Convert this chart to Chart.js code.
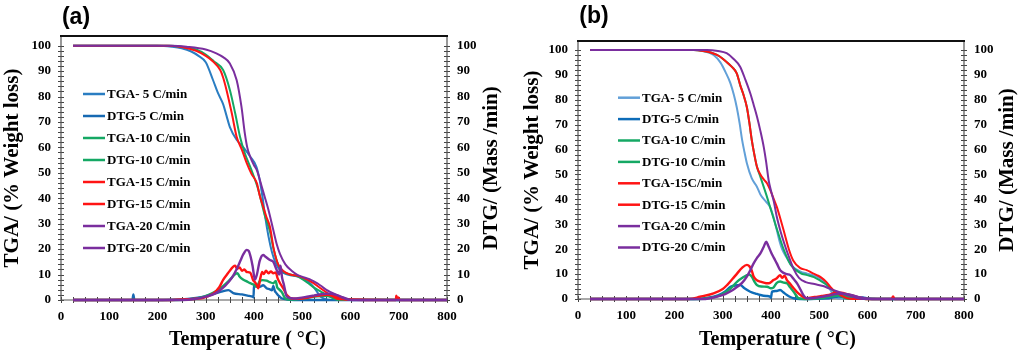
<!DOCTYPE html>
<html><head><meta charset="utf-8">
<script src="https://cdn.jsdelivr.net/npm/chart.js@4/dist/chart.umd.min.js"></script>
<style>
html,body{margin:0;padding:0;background:#fff;}
#wrap{position:relative;width:1024px;height:356px;overflow:hidden;}
.panel{position:absolute;top:0;width:512px;height:356px;}
</style></head><body>
<div id="wrap">
<div class="panel" style="left:0"><canvas id="ca" width="512" height="356"></canvas></div>
<div class="panel" style="left:512px"><canvas id="cb" width="512" height="356"></canvas></div>
</div>
<script>
// ---------- axis ticks ----------
const xTicks = [0,100,200,300,400,500,600,700,800];
const yTicks = [0,10,20,30,40,50,60,70,80,90,100];

// ---------- legend labels ----------
const labelsA = ['TGA- 5 C/min','DTG-5 C/min','TGA-10 C/min','DTG-10 C/min','TGA-15 C/min','DTG-15 C/min','TGA-20 C/min','DTG-20 C/min'];
const labelsB = ['TGA- 5 C/min','DTG-5 C/min','TGA-10 C/min','DTG-10 C/min','TGA-15C/min','DTG-15 C/min','TGA-20 C/min','DTG-20 C/min'];

// ---------- panel (a) ----------
const a_tga5_T = [25,200,230,250,270,285,300,315,325,336,343,350,364,378,392,405,412,418,423,430,437,445,455,465,480,495,505,515,525,537,547,560,800];
const a_tga5_V = [100,100,99.6,99,97.7,96,93.5,86.5,81.5,77,72.5,68,63,60,56.4,52.4,47,40,33,25,19,14.5,11.5,10.3,9.6,9,8,6.8,4.8,1.5,0.4,0,0];
const a_dtg5_T = [25,145,148,150,152,155,250,280,300,320,335,347,357,375,390,397,399,400,405,412,419,426,433,437,440,443,447,452,457,470,500,800];
const a_dtg5_V = [0,0,0,2.2,0,0,0.2,0.8,1.5,2.6,3.4,3.9,2.7,2.2,1.6,1.3,1.0,5.9,5.6,5.2,5.8,4.6,4.2,3.8,5.5,3.6,2.6,1.5,0.7,0.2,0,0];
const a_tga10_T = [25,225,250,280,300,316,336,350,361,371,381,395,409,423,433,440,450,460,475,490,502,515,525,537,550,565,575,800];
const a_tga10_V = [100,100,99.6,98.5,96.5,94,90.4,82.6,73.4,64.2,57.7,51,43.3,32.8,27,20.5,14,11.3,10,9.3,8,6.2,4.8,3.5,2,0.6,0,0];
const a_dtg10_T = [25,240,270,295,315,330,345,355,362,366,370,378,385,392,400,405,408,412,418,426,433,440,445,448,452,458,464,472,485,510,530,545,560,580,600,800];
const a_dtg10_V = [0,0,0.3,1.2,2.8,4.5,7,9,10.3,10.5,9.2,8,7.3,6.6,6,5.2,6,7.4,7.8,7.6,7,6.6,7.5,5,4.2,3,0.8,0.2,0.2,0.8,1.5,1.7,1.4,0.5,0.1,0];
const a_tga15_T = [25,220,250,280,300,314,330,336,343,354,364,375,385,395,406,412,419,426,433,441,450,460,475,490,505,520,535,550,565,577,800];
const a_tga15_V = [100,100,99.5,98,96,94,90.4,87.5,82.6,73.4,64.2,59,53.8,49.5,45.9,41,36.7,32.5,28.8,20,14,11.5,10,9.5,8.5,7,5,3,1.2,0.3,0];
const a_dtg15_T = [25,230,260,280,295,316,328,336,346,357,361,365,370,375,380,385,392,398,402,406,409,413,417,420,425,430,435,440,445,449,454,461,468,481,495,510,530,551,571,592,690,694,695,697,699,702,800];
const a_dtg15_V = [0,0,0.3,0.5,0.8,2.6,5,7.9,10.5,13.1,13.5,12.3,12.8,11.5,12,11,10.8,7.9,7,5.8,4.6,8.5,11,10.2,11.5,10.5,11.2,10.5,10.8,8.5,6.6,4.5,2,0.5,0.5,0.9,1.6,2,1.3,0.2,0,0,1.7,0.3,1.0,0,0];
const a_tga20_T = [25,230,260,300,322,336,350,364,374,381,386,392,400,406,411,416,423,430,440,447,454,465,478,489,502,515,525,537,550,560,571,585,600,800];
const a_tga20_V = [100,100,99.6,98.5,97,95.5,93,86.5,76,65.5,60,56.4,53,51,48,44.6,40,35.4,27.5,22,18,14,11.5,10,9,8.2,7.2,5.8,4,3,2,0.8,0,0];
const a_dtg20_T = [25,250,280,300,320,340,355,365,372,378,385,389,393,397,402,406,412,419,424,433,440,447,452,455,458,462,468,481,495,510,525,540,555,570,585,603,800];
const a_dtg20_V = [0,0,0.5,1.3,2.6,5.5,9,12.5,15.5,18,19.7,19.3,17,13.5,8,10,15.5,17.7,17,15.7,15,11.8,10,13.5,9,6,1.3,0.6,0.8,1.3,1.8,2.3,2.5,2,1,0,0];

// ---------- panel (b) ----------
const b_tga5_T = [25,240,260,281,295,306,316,323,329,335,340,345,350,360,371,378,390,398,405,412,418,423,433,445,461,475,489,500,509,516,523,530,540,800];
const b_tga5_V = [100,100,99.5,98,95,91,86.6,82,77,70.5,64,59,54.5,48.5,45,42,39,37,33,27.7,23,20,16.5,13,11,10.2,9.4,8.5,7.2,5.5,3.6,1.5,0.2,0];
const b_dtg5_T = [25,240,270,290,305,316,330,336,345,357,368,378,390,398,400,402,410,419,426,433,440,447,460,520,540,555,570,590,600,620,800];
const b_dtg5_V = [0,0,0.5,1.5,3,4.9,5.5,5.6,4.3,2.9,2.2,1.6,1.2,1,0.5,3,3.2,3.6,2.6,1.6,0.8,0.3,0,0.3,1,0.8,0.3,0.6,0.2,0,0];
const b_tga10_T = [25,240,260,275,288,300,312,320,329,336,343,350,355,360,365,371,378,390,398,409,419,426,440,461,475,489,502,516,528,540,555,570,800];
const b_tga10_V = [100,100,99.6,99,98,96.5,94.5,93,90.6,86,82,77,71,64,58.5,53,49,42,37,30,24,20,14,10.4,9.6,8.8,7.4,5.6,3.5,1.6,0.2,0,0];
const b_dtg10_T = [25,250,275,295,315,330,343,350,355,360,365,371,380,392,400,405,412,419,426,433,440,447,453,457,470,510,530,545,560,580,600,800];
const b_dtg10_V = [0,0,0.5,1.5,4,7,8.8,9.6,9.8,9,7.2,5.6,5,4.9,4.3,4.6,6.5,7,6.6,6.3,4.6,2.9,1.2,0.3,0,0.5,1.2,1.5,1,0.3,0,0];
const b_tga15_T = [25,240,260,275,288,300,312,320,329,336,343,350,355,360,365,371,378,385,392,400,406,412,419,426,437,446,460,474,485,495,505,515,523,533,544,558,570,800];
const b_tga15_V = [100,100,99.6,99,98,96.5,94.5,93,90.6,86,82,77,71,64,58.5,53,50,48,46.4,43,40,37,32.5,27.7,20,15.5,12.5,11.6,10.5,9.6,8.5,6.8,4.9,3,1.6,0.3,0,0];
const b_dtg15_T = [25,230,253,281,300,309,320,330,340,350,355,360,364,371,378,385,392,398,405,412,419,423,428,433,440,447,454,461,474,490,505,520,530,545,560,575,590,600,650,653,656,800];
const b_dtg15_V = [0,0,0.9,2.3,4,5.6,8,10.3,12.5,13.7,13.2,11.5,9,7.5,7,6.6,6.3,6.5,7.6,8.3,9.6,8.5,9.4,7.6,6,4.3,2.8,1.6,0.3,0.8,1.2,1.6,2.3,2.5,1.8,1,0.3,0,0,1,0,0];
const b_tga20_T = [25,267,290,308,322,336,347,357,364,371,378,385,390,395,400,406,412,420,428,437,447,458,472,490,508,520,535,548,560,575,590,800];
const b_tga20_V = [100,100,99.6,98.7,96.5,93.3,88,82.6,78,73.2,67.5,61,55,47.8,43.5,39,33,27,22,17,12,8.5,6.8,6,5.2,4.3,3.2,2.3,1.5,0.6,0,0];
const b_dtg20_T = [25,260,285,305,320,330,340,350,357,364,371,378,385,390,394,401,406,412,419,426,433,440,447,454,461,467,474,490,510,525,540,555,570,585,600,620,800];
const b_dtg20_V = [0,0,0.8,2,3.5,4.9,6.5,9,11.5,14.3,16.5,18.3,21,23,21.5,18.4,16.5,14.3,11.6,10.5,10,9.6,8,6.3,3.8,1.6,0.3,0.4,1,1.6,2.2,2,1.4,0.6,0.1,0,0];

const colorsA = ['#2A7DC2','#1769B2','#15A864','#15A864','#FF1414','#FF1414','#7A2E9E','#7A2E9E'];
const colorsB = ['#62A0D8','#0D6CB8','#15A864','#15A864','#FF1414','#FF1414','#7A2E9E','#7A2E9E'];

const SERIF = '"Liberation Serif","Times New Roman",serif';

function pts(T, V){ return T.map((t,i)=>({x:t, y:V[i]})); }

const decoPlugin = {
  id: 'deco',
  beforeDatasetsDraw(chart){
    const ctx = chart.ctx; const ca = chart.chartArea;
    const xs = chart.scales.x, ys = chart.scales.y;
    ctx.save();
    ctx.strokeStyle = '#444'; ctx.lineWidth = 1;
    ctx.beginPath();
    for (let v = 0; v <= 100; v += 2){
      const p = Math.round(ys.getPixelForValue(v)) + 0.5;
      ctx.moveTo(ca.left - 3, p); ctx.lineTo(ca.left + 3, p);
      ctx.moveTo(ca.right - 3, p); ctx.lineTo(ca.right + 3, p);
    }
    for (let v = 0; v <= 800; v += 25){
      const p = Math.round(xs.getPixelForValue(v)) + 0.5;
      ctx.moveTo(p, ca.bottom - 3); ctx.lineTo(p, ca.bottom + 3);
    }
    ctx.stroke();
    ctx.strokeStyle = '#555'; ctx.lineWidth = 1.2;
    ctx.beginPath();
    ctx.moveTo(ca.left, ca.top); ctx.lineTo(ca.left, ca.bottom); ctx.lineTo(ca.right, ca.bottom); ctx.lineTo(ca.right, ca.top);
    ctx.stroke();
    ctx.strokeStyle = '#111'; ctx.lineWidth = 2;
    ctx.beginPath(); ctx.moveTo(ca.left - 1, ca.top); ctx.lineTo(ca.right + 1, ca.top); ctx.stroke();
    ctx.restore();
  },
  afterDraw(chart){
    const o = chart.options.plugins.deco; const ctx = chart.ctx; const ca = chart.chartArea;
    ctx.save();
    ctx.fillStyle = '#000';
    ctx.font = 'bold 23px "Liberation Sans", Arial, sans-serif';
    ctx.textAlign = 'center'; ctx.textBaseline = 'middle';
    ctx.fillText(o.panel, o.panelX, o.panelY);
    ctx.font = 'bold 20px ' + SERIF;
    ctx.fillText(o.xTitle, o.xTitleX, o.xTitleY);
    const cy = (ca.top + ca.bottom) / 2;
    ctx.font = 'bold 21px ' + SERIF;
    ctx.save(); ctx.translate(o.yTitleX, cy); ctx.rotate(-Math.PI/2); ctx.fillText(o.yTitle, 0, 0); ctx.restore();
    ctx.save(); ctx.translate(o.y2TitleX, cy); ctx.rotate(-Math.PI/2); ctx.fillText(o.y2Title, 0, 0); ctx.restore();
    ctx.font = 'bold 13px ' + SERIF;
    ctx.textAlign = 'left';
    chart.data.datasets.forEach((ds, i) => {
      const y = o.legY0 + i * o.legDy;
      ctx.strokeStyle = ds.borderColor; ctx.lineWidth = 2.5;
      ctx.beginPath(); ctx.moveTo(o.legX0, y); ctx.lineTo(o.legX1, y); ctx.stroke();
      ctx.fillStyle = '#000';
      ctx.fillText(ds.label, o.legX1 + 2, y + 0.5);
    });
    ctx.restore();
  }
};

function makePanel(id, series, labels, colors, g){
  const datasets = series.map((s, i) => ({
    label: labels[i],
    data: pts(s[0], s[1]),
    borderColor: colors[i],
    backgroundColor: colors[i],
    borderWidth: (i % 2 === 0) ? 2 : 2.4,
    pointRadius: 0,
    cubicInterpolationMode: 'monotone',
    fill: false,
    clip: 6,
    order: series.length - 1 - i
  }));
  const tickFont = {family: SERIF, size: 13, weight: 'bold'};
  const yOpts = (pos, w) => ({
    type: 'linear', position: pos, min: 0, max: g.ymax,
    afterBuildTicks: sc => { sc.ticks = yTicks.map(v => ({value: v})); },
    afterFit: sc => { sc.width = w; },
    ticks: {font: tickFont, color: '#000', padding: 10, includeBounds: false},
    grid: {display: false, drawTicks: false},
    border: {display: false},
    title: {display: false}
  });
  return new Chart(document.getElementById(id), {
    type: 'line',
    data: {datasets},
    options: {
      responsive: false, animation: false,
      layout: {padding: {top: g.top, left: 0, right: 0, bottom: 0}},
      scales: {
        x: {
          type: 'linear', min: 0, max: 800,
          afterBuildTicks: sc => { sc.ticks = xTicks.map(v => ({value: v})); },
          afterFit: sc => { sc.height = g.xh; },
          ticks: {font: tickFont, color: '#000', padding: 9, maxRotation: 0},
          grid: {display: false, drawTicks: false},
          border: {display: false}
        },
        y: yOpts('left', g.yw),
        y2: yOpts('right', g.y2w)
      },
      plugins: {
        legend: {display: false},
        tooltip: {enabled: false},
        deco: g.deco
      }
    },
    plugins: [decoPlugin]
  });
}

makePanel('ca', [
  [a_tga5_T, a_tga5_V], [a_dtg5_T, a_dtg5_V], [a_tga10_T, a_tga10_V], [a_dtg10_T, a_dtg10_V],
  [a_tga15_T, a_tga15_V], [a_dtg15_T, a_dtg15_V], [a_tga20_T, a_tga20_V], [a_dtg20_T, a_dtg20_V]
], labelsA, colorsA, {
  top: 36, xh: 56, yw: 61, y2w: 65, ymax: 103.8,
  deco: {panel: '(a)', panelX: 76, panelY: 18,
    xTitle: 'Temperature ( °C)', xTitleX: 247.5, xTitleY: 340,
    yTitle: 'TGA/ (% Weight loss)', yTitleX: 13,
    y2Title: 'DTG/ (Mass /min)', y2TitleX: 492,
    legX0: 83, legX1: 105, legY0: 94, legDy: 22}
});

makePanel('cb', [
  [b_tga5_T, b_tga5_V], [b_dtg5_T, b_dtg5_V], [b_tga10_T, b_tga10_V], [b_dtg10_T, b_dtg10_V],
  [b_tga15_T, b_tga15_V], [b_dtg15_T, b_dtg15_V], [b_tga20_T, b_tga20_V], [b_dtg20_T, b_dtg20_V]
], labelsB, colorsB, {
  top: 41, xh: 57, yw: 66, y2w: 60, ymax: 103.6,
  deco: {panel: '(b)', panelX: 82, panelY: 17,
    xTitle: 'Temperature ( °C)', xTitleX: 265.5, xTitleY: 340,
    yTitle: 'TGA/ (% Weight loss)', yTitleX: 21,
    y2Title: 'DTG/ (Mass /min)', y2TitleX: 495.5,
    legX0: 106, legX1: 128, legY0: 97.7, legDy: 21.4}
});
</script>
</body></html>
